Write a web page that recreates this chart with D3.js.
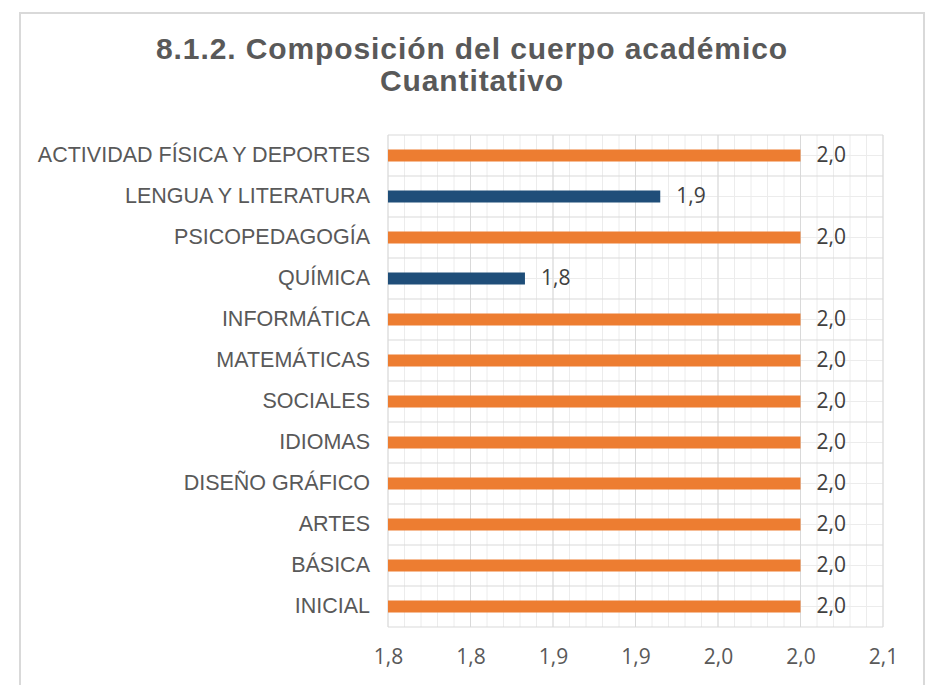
<!DOCTYPE html>
<html>
<head>
<meta charset="utf-8">
<script src="https://cdn.jsdelivr.net/npm/d3@7"></script>
<style>
  body { margin: 0; background: #fff; }
</style>
</head>
<body>
<div id="chart"></div>
<script>
// data
const categories = [
  "ACTIVIDAD FÍSICA Y DEPORTES",
  "LENGUA Y LITERATURA",
  "PSICOPEDAGOGÍA",
  "QUÍMICA",
  "INFORMÁTICA",
  "MATEMÁTICAS",
  "SOCIALES",
  "IDIOMAS",
  "DISEÑO GRÁFICO",
  "ARTES",
  "BÁSICA",
  "INICIAL"
];
const values = [2.0, 1.915, 2.0, 1.833, 2.0, 2.0, 2.0, 2.0, 2.0, 2.0, 2.0, 2.0];
const tickValues = [1.75, 1.8, 1.85, 1.9, 1.95, 2.0, 2.05];
const tickLabels = ["1,8", "1,8", "1,9", "1,9", "2,0", "2,0", "2,1"];
const titleLines = ["8.1.2. Composición del cuerpo académico", "Cuantitativo"];

const width = 932;
const height = 685;
const margin = { top: 135, right: 49, bottom: 58, left: 388 };

const svg = d3
  .select("#chart")
  .append("svg")
  .attr("width", width)
  .attr("height", height);

// outer chart border
svg
  .append("rect")
  .attr("x", 20)
  .attr("y", 13)
  .attr("width", 904)
  .attr("height", height)
  .attr("fill", "none")
  .attr("stroke", "#d9d9d9")
  .attr("stroke-width", 2);

// title
svg
  .append("text")
  .attr("text-anchor", "middle")
  .attr("font-family", "Liberation Sans, Arial, sans-serif")
  .attr("font-weight", "bold")
  .attr("font-size", 30)
  .attr("letter-spacing", 0.9)
  .attr("fill", "#595959")
  .selectAll("tspan")
  .data(titleLines)
  .enter()
  .append("tspan")
  .attr("x", 472)
  .attr("y", (d, i) => 59 + i * 32)
  .text((d) => d);

const data = categories.map((c, i) => ({ category: c, value: values[i] }));

const x = d3
  .scaleLinear()
  .domain([tickValues[0], tickValues[tickValues.length - 1]])
  .range([margin.left, width - margin.right]);

const y = d3
  .scaleBand()
  .domain(categories)
  .range([margin.top, height - margin.bottom]);

const plot = svg.append("g");

// minor vertical gridlines (every 0,01)
const minorX = d3.range(0, 31).map((i) => tickValues[0] + i * 0.01);
plot
  .selectAll(".minor-x")
  .data(minorX)
  .enter()
  .append("line")
  .attr("x1", (d) => x(d))
  .attr("x2", (d) => x(d))
  .attr("y1", y.range()[0])
  .attr("y2", y.range()[1])
  .attr("stroke", "#ececec")
  .attr("stroke-width", 1);

// minor horizontal gridlines at band centers
plot
  .selectAll(".minor-y")
  .data(categories)
  .enter()
  .append("line")
  .attr("x1", x.range()[0])
  .attr("x2", x.range()[1])
  .attr("y1", (d) => y(d) + y.bandwidth() / 2)
  .attr("y2", (d) => y(d) + y.bandwidth() / 2)
  .attr("stroke", "#ececec")
  .attr("stroke-width", 1);

// major gridlines
plot
  .selectAll(".major-x")
  .data(tickValues)
  .enter()
  .append("line")
  .attr("x1", (d) => x(d))
  .attr("x2", (d) => x(d))
  .attr("y1", y.range()[0])
  .attr("y2", y.range()[1])
  .attr("stroke", "#d9d9d9")
  .attr("stroke-width", 1);

plot
  .selectAll(".major-y")
  .data(categories.concat([null]))
  .enter()
  .append("line")
  .attr("x1", x.range()[0])
  .attr("x2", x.range()[1])
  .attr("y1", (d) => (d === null ? y.range()[1] : y(d)))
  .attr("y2", (d) => (d === null ? y.range()[1] : y(d)))
  .attr("stroke", "#d9d9d9")
  .attr("stroke-width", 1);

// bars
const barHeight = 12;
plot
  .selectAll(".bar")
  .data(data)
  .enter()
  .append("rect")
  .attr("x", x(tickValues[0]))
  .attr("y", (d) => y(d.category) + y.bandwidth() / 2 - barHeight / 2)
  .attr("width", (d) => x(d.value) - x(tickValues[0]))
  .attr("height", barHeight)
  .attr("fill", (d) => (d.value < 2 ? "#1f4e79" : "#ed7d31"));

// data labels
plot
  .selectAll(".label")
  .data(data)
  .enter()
  .append("text")
  .attr("x", (d) => x(d.value) + 16)
  .attr("y", (d) => y(d.category) + y.bandwidth() / 2 + 1)
  .attr("dominant-baseline", "middle")
  .attr("font-family", "Open Sans, sans-serif")
  .attr("font-size", 21)
  .attr("fill", "#404040")
  .text((d) => d.value.toFixed(1).replace(".", ","));

// y axis (category labels)
const yAxis = svg
  .append("g")
  .attr("transform", `translate(${margin.left}, 0)`)
  .call(d3.axisLeft(y).tickSize(0).tickPadding(18));
yAxis.select(".domain").remove();
yAxis
  .selectAll("text")
  .attr("font-family", "Liberation Sans, Arial, sans-serif")
  .attr("font-size", 21.5)
  .attr("fill", "#595959");

// x axis
const xAxis = svg
  .append("g")
  .attr("transform", `translate(0, ${height - margin.bottom})`)
  .call(
    d3
      .axisBottom(x)
      .tickValues(tickValues)
      .tickFormat((d, i) => tickLabels[i])
      .tickSize(0)
      .tickPadding(22)
  );
xAxis.select(".domain").remove();
xAxis
  .selectAll("text")
  .attr("font-family", "Open Sans, sans-serif")
  .attr("font-size", 21)
  .attr("fill", "#595959");
</script>
</body>
</html>
